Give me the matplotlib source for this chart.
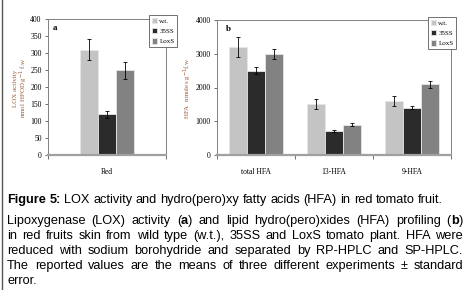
import matplotlib
matplotlib.use("Agg")
import matplotlib.pyplot as plt
import numpy as np
from matplotlib.lines import Line2D

# ---- data ----
series = ["w.t.", "35SS", "LoxS"]
colors = ["#c4c4c4", "#2b2b2b", "#828282"]

lox_cats = ["Red"]
lox_vals = {"w.t.": [310], "35SS": [120], "LoxS": [250]}
lox_err = {"w.t.": [30], "35SS": [10], "LoxS": [25]}
lox_yticks = [0, 50, 100, 150, 200, 250, 300, 350, 400]

hfa_cats = ["total HFA", "13-HFA", "9-HFA"]
hfa_vals = {"w.t.": [3200, 1500, 1600], "35SS": [2500, 700, 1400], "LoxS": [3000, 900, 2100]}
hfa_err = {"w.t.": [300, 150, 150], "35SS": [100, 30, 50], "LoxS": [150, 50, 100]}
hfa_yticks = [0, 1000, 2000, 3000, 4000]

W, H = 467, 290
fig = plt.figure(figsize=(W / 100, H / 100), dpi=100)
serif = ["Liberation Serif", "DejaVu Serif"]
sans = ["Liberation Sans", "DejaVu Sans"]
label_color = "#9b5a3a"
spine_color = "#808080"


def px_axes(x0, y0, x1, y1):
    return fig.add_axes([x0 / W, 1 - y1 / H, (x1 - x0) / W, (y1 - y0) / H])


def panel(ax, cats, vals, errs, yticks, ymax, width, letter, legend_box, minor_bounds):
    n = len(cats)
    x = np.arange(n)
    for i, s in enumerate(series):
        ax.bar(x + (i - 1) * width, vals[s], width, color=colors[i], edgecolor="#e6e6e6",
               linewidth=0.6, yerr=errs[s], error_kw=dict(ecolor="black", elinewidth=0.6,
                                                         capsize=1.5, capthick=0.6),
               label=s, zorder=2)
    ax.set_xlim(-0.5, n - 0.5)
    ax.set_ylim(0, ymax)
    ax.set_yticks(yticks)
    ax.set_yticklabels([str(t) for t in yticks], fontfamily=serif, fontsize=5.5)
    ax.set_xticks(x)
    ax.set_xticklabels(cats, fontfamily=serif, fontsize=5.5)
    ax.tick_params(axis="x", which="major", length=0, pad=9)
    ax.set_xticks(minor_bounds, minor=True)
    ax.tick_params(axis="x", which="minor", length=3, width=0.6, color="#555555", direction="out")
    ax.tick_params(axis="y", length=2.5, width=0.6, color="#555555", pad=2)
    for sp in ax.spines.values():
        sp.set_color(spine_color)
        sp.set_linewidth(0.7)
    ax.spines["bottom"].set_linewidth(1.6)
    ax.spines["bottom"].set_color("#a0a0a0")
    ax.text(0.04, 0.96, letter, transform=ax.transAxes, fontfamily=serif, fontweight="bold",
            fontsize=6.5, va="top", ha="left")
    leg = ax.legend(loc="upper left", bbox_to_anchor=(legend_box[0] / W, 1 - legend_box[1] / H),
                    bbox_transform=fig.transFigure,
                    prop=dict(family=serif, size=5), frameon=True, fancybox=False,
                    handlelength=0.8, handleheight=0.8, handletextpad=0.3, borderpad=0.4,
                    labelspacing=0.6, borderaxespad=0, framealpha=1)
    leg.get_frame().set_edgecolor("#707070")
    leg.get_frame().set_linewidth(0.7)
    leg.set_clip_on(False)
    return ax


ax1 = px_axes(48, 19, 166, 155)
panel(ax1, lox_cats, lox_vals, lox_err, lox_yticks, 400, 0.153, "a", (149, 15), [-0.5, 0.5])
fig.text(15.5 / W, 1 - 88 / H, "LOX activity", rotation=90, ha="center",
         va="center", fontfamily=serif, fontsize=5, color=label_color)
fig.text(23.5 / W, 1 - 88 / H, "nmol HPOD g$^{-1}$ f.w", rotation=90, ha="center",
         va="center", fontfamily=serif, fontsize=5, color=label_color)

ax2 = px_axes(217, 20, 451, 155)
panel(ax2, hfa_cats, hfa_vals, hfa_err, hfa_yticks, 4000, 0.227, "b", (428, 17),
      [-0.5, 0.5, 1.5, 2.5])
fig.text(188 / W, 1 - 88 / H, "HFA  nmoles g$^{-1}$f.w", rotation=90, ha="center",
         va="center", fontfamily=serif, fontsize=5, color=label_color)

# left border line of the figure frame
fig.add_artist(Line2D([1.5 / W, 1.5 / W], [0, 1], transform=fig.transFigure, color="#555555",
                      linewidth=1.0))

# ---- caption ----
renderer = fig.canvas.get_renderer()


def seg_width(text, bold, size):
    t = fig.text(0, 0, text, fontfamily=sans, fontsize=size,
                 fontweight="bold" if bold else "normal")
    w = t.get_window_extent(renderer=renderer).width
    t.remove()
    return w


def natural_width(words, size):
    space = seg_width("a b", False, size) - seg_width("ab", False, size)
    return sum(sum(seg_width(s, b, size) for s, b in w) for w in words) + space * (len(words) - 1)


def draw_line(words, y, size, x0, x1=None):
    widths = [sum(seg_width(s, b, size) for s, b in w) for w in words]
    space = seg_width("a b", False, size) - seg_width("ab", False, size)
    if x1 is not None and len(words) > 1:
        gap = (x1 - x0 - sum(widths)) / (len(words) - 1)
    else:
        gap = space
    x = x0
    for w, wd in zip(words, widths):
        xx = x
        for s, b in w:
            fig.text(xx / W, 1 - y / H, s, fontfamily=sans, fontsize=size,
                     fontweight="bold" if b else "normal", va="baseline", ha="left")
            xx += seg_width(s, b, size)
        x += wd + gap


def words_of(text):
    return [[(w, False)] for w in text.split(" ")]


line1 = [[("Figure", True)], [("5:", True)]] + words_of(
    "LOX activity and hydro(pero)xy fatty acids (HFA) in red tomato fruit.")
line2 = words_of("Lipoxygenase (LOX) activity") + [[("(", False), ("a", True), (")", False)]] + \
    words_of("and lipid hydro(pero)xides (HFA) profiling") + [[("(", False), ("b", True), (")", False)]]
line3 = words_of("in red fruits skin from wild type (w.t.), 35SS and LoxS tomato plant. HFA were")
line4 = words_of("reduced with sodium borohydride and separated by RP-HPLC and SP-HPLC.")
line5 = words_of("The reported values are the means of three different experiments \u00b1 standard")
line6 = words_of("error.")

# font size chosen so the first caption line spans like the reference
size = 10 * 438 / natural_width(line1, 10)
draw_line(line1, 203, size, 7)
draw_line(line2, 224, size, 7, 463)
draw_line(line3, 239, size, 7, 463)
draw_line(line4, 254, size, 7, 463)
draw_line(line5, 269, size, 7, 463)
draw_line(line6, 284, size, 7)

fig.savefig("out.png", dpi=100)
